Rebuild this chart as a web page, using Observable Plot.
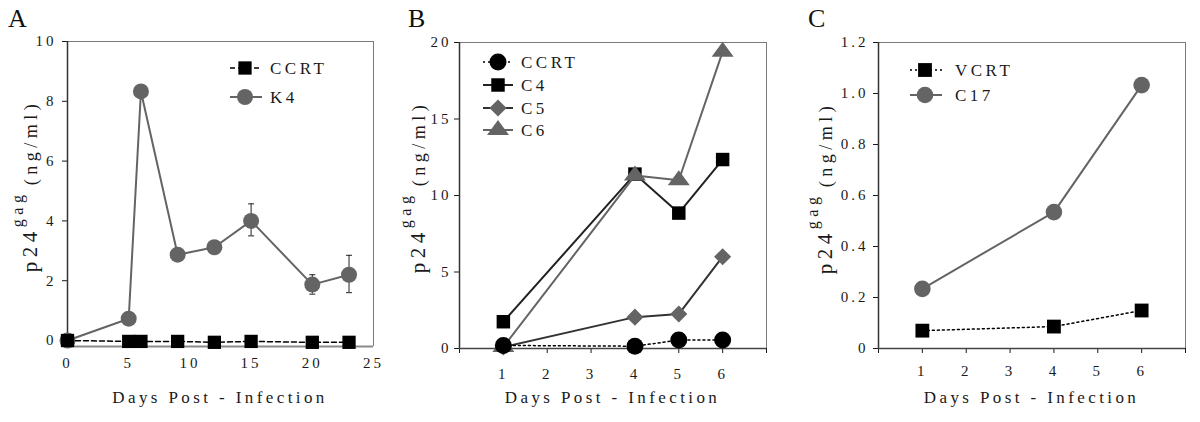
<!DOCTYPE html>
<html><head><meta charset="utf-8">
<script src="https://cdn.jsdelivr.net/npm/d3@7"></script>
<script src="https://cdn.jsdelivr.net/npm/@observablehq/plot@0.6"></script>
<style>
html,body{margin:0;padding:0;background:#fff;}
#wrap{display:flex;width:1200px;height:422px;}
.panel{width:400px;height:422px;}
svg, svg text, svg tspan{font-family:"Liberation Serif","Times New Roman",serif !important;}
svg text{letter-spacing:3px;}
</style></head><body><div id="wrap"></div>
<script>
// ---------- Panel A ----------
const daysA = [0, 5, 6, 9, 12, 15, 20, 23];
const ccrtA = [0, -0.03, -0.03, -0.03, -0.06, -0.03, -0.06, -0.06];
const k4A = [0, 0.73, 8.33, 2.87, 3.12, 4.0, 1.87, 2.2];
const k4ErrDays = [15, 20, 23];
const k4ErrLo = [3.5, 1.55, 1.6];
const k4ErrHi = [4.57, 2.2, 2.85];
const xTicksA = [0, 5, 10, 15, 20, 25];
const yTicksA = [0, 2, 4, 6, 8, 10];
// ---------- Panel B ----------
const daysB = [1, 4, 5, 6];
const ccrtB = [0.2, 0.15, 0.55, 0.55];
const c4B = [1.75, 11.4, 8.85, 12.35];
const c5B = [0.1, 2.05, 2.25, 6.0];
const c6B = [0.1, 11.3, 11.0, 19.4];
const xTicksB = [0, 1, 2, 3, 4, 5, 6, 7];
const yTicksB = [0, 5, 10, 15, 20];
// ---------- Panel C ----------
const daysC = [1, 4, 6];
const vcrtC = [0.07, 0.086, 0.149];
const c17C = [0.234, 0.535, 1.033];
const xTicksC = [0, 1, 2, 3, 4, 5, 6, 7];
const yTicksC = [0, 0.2, 0.4, 0.6, 0.8, 1.0, 1.2];

const xTitle = "Days Post - Infection";
const GRAY = "#646464";

const rows = (xs, ys) => xs.map((d, i) => ({day: d, v: ys[i]}));
const capSymbol = {draw(ctx) { ctx.moveTo(-3, 0); ctx.lineTo(3, 0); }};
// flatter triangle like the original (about 22 wide, 15 tall)
const flatTriangle = {draw(ctx) { ctx.moveTo(0, -10); ctx.lineTo(11, 5); ctx.lineTo(-11, 5); ctx.closePath(); }};
const symbolTypes = {circle: d3.symbolCircle, square: d3.symbolSquare, diamond2: d3.symbolDiamond2, triangle: flatTriangle};
const plotSymbol = s => s === "triangle" ? flatTriangle : s;

const panels = [
  {
    letter: "A", margin: [41, 27, 76, 67], xDomain: [0, 25], yDomain: [-0.2, 10],
    xTicks: xTicksA, yTicks: yTicksA, xTickSize: 0, xTickPad: 11, yTickPad: 6,
    xFmt: d => String(d), yFmt: d => String(d),
    bottomStroke: "#8a8a8a", bottomWidth: 2,
    yLabel: {x: 37, y: 186},
    drawOrder: [1, 0],
    series: [
      {name: "CCRT", x: daysA, y: ccrtA, symbol: "square", fill: "#000", stroke: "#000", width: 1.5, dash: "5,3", r: 7.5},
      {name: "K4", x: daysA, y: k4A, symbol: "circle", fill: GRAY, stroke: GRAY, width: 2, dash: null, r: 8}
    ],
    err: {x: k4ErrDays, lo: k4ErrLo, hi: k4ErrHi},
    legend: {x0: 230, x1: 262, mx: 245, tx: 270, ys: [68, 97]}
  },
  {
    letter: "B", margin: [42, 34, 74, 59], xDomain: [0, 7], yDomain: [0, 20],
    xTicks: xTicksB, yTicks: yTicksB, xTickSize: 5, xTickPad: 15, yTickPad: 3,
    xFmt: d => (d >= 1 && d <= 6) ? String(d) : "", yFmt: d => String(d),
    bottomStroke: "#444", bottomWidth: 1.5,
    yLabel: {x: 25, y: 187},
    drawOrder: [1, 2, 3, 0],
    series: [
      {name: "CCRT", x: daysB, y: ccrtB, symbol: "circle", fill: "#000", stroke: "#000", width: 1.5, dash: "2,3", r: 8.5},
      {name: "C4", x: daysB, y: c4B, symbol: "square", fill: "#000", stroke: "#222", width: 2, dash: null, r: 7.6},
      {name: "C5", x: daysB, y: c5B, symbol: "diamond2", fill: GRAY, stroke: "#333", width: 2, dash: null, r: 7.7},
      {name: "C6", x: daysB, y: c6B, symbol: "triangle", fill: GRAY, stroke: GRAY, width: 2, dash: null, r: 8.2}
    ],
    legend: {x0: 83, x1: 113, mx: 98, tx: 121, ys: [62, 85, 108, 130]}
  },
  {
    letter: "C", margin: [42, 15, 74, 78], xDomain: [0, 7], yDomain: [0, 1.2],
    xTicks: xTicksC, yTicks: yTicksC, xTickSize: 5, xTickPad: 12, yTickPad: 5,
    xFmt: d => (d >= 1 && d <= 6) ? String(d) : "", yFmt: d => d === 0 ? "0" : d.toFixed(1),
    bottomStroke: "#444", bottomWidth: 1.5,
    yLabel: {x: 32, y: 188},
    drawOrder: [1, 0],
    series: [
      {name: "VCRT", x: daysC, y: vcrtC, symbol: "square", fill: "#000", stroke: "#000", width: 1.5, dash: "2,3", r: 7.8},
      {name: "C17", x: daysC, y: c17C, symbol: "circle", fill: GRAY, stroke: GRAY, width: 2, dash: null, r: 8.3}
    ],
    legend: {x0: 110, x1: 142, mx: 125, tx: 155, ys: [70, 95]}
  }
];

const wrap = document.getElementById("wrap");

for (const p of panels) {
  const [mt, mr, mb, ml] = p.margin;
  const marks = [
    Plot.ruleY([p.yDomain[1]], {stroke: "#7a7a7a", strokeWidth: 1}),
    Plot.ruleX([p.xDomain[1]], {stroke: "#7a7a7a", strokeWidth: 1}),
    Plot.ruleX([p.xDomain[0]], {stroke: "#333", strokeWidth: 1.5}),
    Plot.ruleY([p.yDomain[0]], {stroke: p.bottomStroke, strokeWidth: p.bottomWidth})
  ];
  if (p.err) {
    const e = p.err.x.map((d, i) => ({day: d, lo: p.err.lo[i], hi: p.err.hi[i]}));
    marks.push(Plot.ruleX(e, {x: "day", y1: "lo", y2: "hi", stroke: "#222", strokeWidth: 1}));
    marks.push(Plot.dot(e, {x: "day", y: "lo", symbol: capSymbol, stroke: "#222", strokeWidth: 1, fill: "none", r: 3}));
    marks.push(Plot.dot(e, {x: "day", y: "hi", symbol: capSymbol, stroke: "#222", strokeWidth: 1, fill: "none", r: 3}));
  }
  for (const idx of p.drawOrder) {
    const s = p.series[idx];
    const data = rows(s.x, s.y);
    marks.push(Plot.line(data, {x: "day", y: "v", stroke: s.stroke, strokeWidth: s.width, strokeDasharray: s.dash || undefined}));
    marks.push(Plot.dot(data, {x: "day", y: "v", symbol: plotSymbol(s.symbol), fill: s.fill, stroke: "none", r: s.r}));
  }
  const svgNode = Plot.plot({
    width: 400, height: 422,
    marginTop: mt, marginRight: mr, marginBottom: mb, marginLeft: ml,
    style: {fontFamily: "Liberation Serif, serif", fontSize: "15px", color: "#1a1a1a", background: "#fff", overflow: "visible"},
    x: {domain: p.xDomain, ticks: p.xTicks, tickSize: p.xTickSize, tickPadding: p.xTickPad, tickFormat: p.xFmt, label: null},
    y: {domain: p.yDomain, ticks: p.yTicks, tickSize: 5, tickPadding: p.yTickPad, tickFormat: p.yFmt, label: null},
    marks
  });
  const div = document.createElement("div");
  div.className = "panel";
  div.appendChild(svgNode);
  wrap.appendChild(div);

  const svg = d3.select(svgNode).attr("font-family", "Liberation Serif");
  // panel letter
  svg.append("text").attr("x", 8).attr("y", 27).attr("text-anchor", "start").attr("font-size", 26)
    .style("letter-spacing", "0px").attr("fill", "#111").text(p.letter);
  // x title
  svg.append("text").attr("x", (ml + 400 - mr) / 2).attr("y", 403).attr("text-anchor", "middle")
    .attr("font-size", 17).style("letter-spacing", "3.4px").attr("fill", "#1a1a1a").text(xTitle);
  // y label
  const yl = svg.append("text").attr("transform", `translate(${p.yLabel.x},${p.yLabel.y}) rotate(-90)`)
    .attr("text-anchor", "middle").attr("fill", "#1a1a1a").style("letter-spacing", "4.5px");
  yl.append("tspan").attr("font-size", 21).text("p24");
  yl.append("tspan").attr("font-size", 16).attr("dy", -14).text("gag");
  yl.append("tspan").attr("font-size", 3).attr("dy", 14).text(" ");
  yl.append("tspan").attr("font-size", 18).text("(ng/ml)");
  // legend
  const lg = svg.append("g");
  p.series.forEach((s, i) => {
    const y = p.legend.ys[i];
    lg.append("line").attr("x1", p.legend.x0).attr("x2", p.legend.x1).attr("y1", y).attr("y2", y)
      .attr("stroke", s.stroke).attr("stroke-width", s.width).attr("stroke-dasharray", s.dash || null);
    lg.append("path").attr("transform", `translate(${p.legend.mx},${y})`)
      .attr("d", d3.symbol(symbolTypes[s.symbol], Math.PI * s.r * s.r)()).attr("fill", s.fill);
    lg.append("text").attr("x", p.legend.tx).attr("y", y).attr("dy", "0.35em").attr("text-anchor", "start")
      .attr("font-size", 17).style("letter-spacing", "3.5px").attr("fill", "#1a1a1a").text(s.name);
  });
}
</script></body></html>
